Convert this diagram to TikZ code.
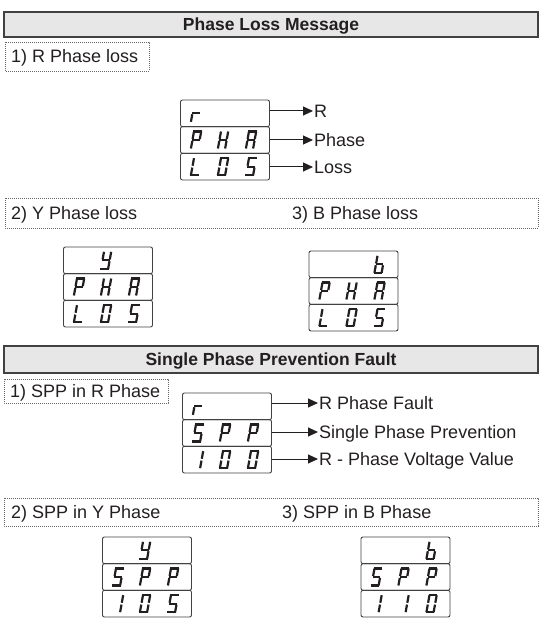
\documentclass[tikz,border=0pt]{standalone}
\usepackage{fontspec}
\setmainfont{Liberation Sans}
\usetikzlibrary{arrows.meta}

\definecolor{inkgray}{RGB}{35,31,32}
\definecolor{barfill}{RGB}{231,231,231}
\definecolor{rimgray}{RGB}{65,65,65}

\newcommand{\segr}{e,g}
\newcommand{\segy}{b,c,d,f,g}
\newcommand{\segb}{c,d,e,f,g}
\newcommand{\segP}{a,b,e,f,g}
\newcommand{\segH}{b,c,e,f,g}
\newcommand{\segA}{a,b,c,e,f,g}
\newcommand{\segL}{d,e,f}
\newcommand{\segO}{a,b,c,d,e,f}
\newcommand{\segS}{a,c,d,f,g}
\newcommand{\segI}{b,c}

% one glyph: row node, offset from its left side, segments
% segment ends in local units, y pointing down
\newcommand{\lcdchar}[3]{%
  \begin{scope}[shift={([xshift=#2pt]#1.west)}, xslant=.18]
    \coordinate (a1) at (-4.4,-8.5); \coordinate (a2) at (4.4,-8.5);
    \coordinate (b1) at (3.6,-8.5);  \coordinate (b2) at (3.6,-0.9);
    \coordinate (c1) at (3.6,0.9);   \coordinate (c2) at (3.6,8.5);
    \coordinate (d1) at (-4.4,8.5);  \coordinate (d2) at (4.4,8.5);
    \coordinate (e1) at (-3.6,0.9);  \coordinate (e2) at (-3.6,8.5);
    \coordinate (f1) at (-3.6,-8.5); \coordinate (f2) at (-3.6,-0.9);
    \coordinate (g1) at (-3.6,0);    \coordinate (g2) at (3.6,0);
    \foreach \s in #3 {\draw[segline] (\s1) -- (\s2);}
  \end{scope}}

% three stacked rows: name, centre x, top y
\newcommand{\lcdstack}[3]{%
  \node[lcdrow] (#1-1) at (#2,#3+13.33) {};
  \node[lcdrow] (#1-2) at (#2,#3+40) {};
  \node[lcdrow] (#1-3) at (#2,#3+66.67) {};}

\begin{document}
\begin{tikzpicture}[x=1pt, y=-1pt,
  every node/.style={text=inkgray, font=\fontsize{18}{21}\selectfont},
  headbar/.style={fill=barfill, draw=rimgray, line width=1.2pt},
  headtext/.style={font=\bfseries\fontsize{17.5}{20}\selectfont, inner sep=0pt, text height=12.6pt, text depth=0pt},
  tagbox/.style={draw=black!60, line width=0.7pt, dash pattern=on 0.7pt off 1.3pt},
  tagtext/.style={anchor=west, inner sep=0pt, text height=12.9pt, text depth=0pt},
  lcdrow/.style={draw=rimgray, line width=0.9pt, rounded corners=2pt, minimum width=89pt, minimum height=26.67pt, inner sep=0pt},
  lcdlabel/.style={anchor=west, inner sep=1pt, text height=12.9pt, text depth=0pt},
  segline/.style={draw=inkgray, line width=2.2pt},
  pointer/.style={draw=inkgray, line width=1pt, -{Triangle[length=10pt, width=9pt]}}]
  \useasboundingbox (0,0) rectangle (540,620);

  % phase loss
  \draw[headbar] (4,12) rectangle (538,37);
  \node[headtext] (headloss) at (271,24.5) {Phase Loss Message};
  \draw[tagbox] (5,42) rectangle (149,71);
  \node[tagtext] (tagrloss) at (11,56.5) {1) R Phase loss};

  \lcdstack{rloss}{225}{100}
  \lcdchar{rloss-1}{16}{\segr}
  \lcdchar{rloss-2}{16}{\segP}
  \lcdchar{rloss-2}{43}{\segH}
  \lcdchar{rloss-2}{71}{\segA}
  \lcdchar{rloss-3}{16}{\segL}
  \lcdchar{rloss-3}{43}{\segO}
  \lcdchar{rloss-3}{71}{\segS}
  \node[lcdlabel] (lbr) at (313,111) {R};
  \node[lcdlabel] (lbphase) at (313,140) {Phase};
  \node[lcdlabel] (lbloss) at (313,167) {Loss};
  \draw[pointer] (rloss-1.east |- lbr.west) -- (lbr.west);
  \draw[pointer] (rloss-2.east |- lbphase.west) -- (lbphase.west);
  \draw[pointer] (rloss-3.east |- lbloss.west) -- (lbloss.west);

  \draw[tagbox] (5,198) rectangle (538,228);
  \node[tagtext] (tagyloss) at (11,213) {2) Y Phase loss};
  \node[tagtext] (tagbloss) at (292,213) {3) B Phase loss};

  \lcdstack{yloss}{108}{247}
  \lcdchar{yloss-1}{43}{\segy}
  \lcdchar{yloss-2}{16}{\segP}
  \lcdchar{yloss-2}{43}{\segH}
  \lcdchar{yloss-2}{71}{\segA}
  \lcdchar{yloss-3}{16}{\segL}
  \lcdchar{yloss-3}{43}{\segO}
  \lcdchar{yloss-3}{71}{\segS}

  \lcdstack{bloss}{353.5}{251}
  \lcdchar{bloss-1}{71}{\segb}
  \lcdchar{bloss-2}{16}{\segP}
  \lcdchar{bloss-2}{43}{\segH}
  \lcdchar{bloss-2}{71}{\segA}
  \lcdchar{bloss-3}{16}{\segL}
  \lcdchar{bloss-3}{43}{\segO}
  \lcdchar{bloss-3}{71}{\segS}

  % single phase prevention
  \draw[headbar] (4,346) rectangle (538,373);
  \node[headtext] (headspp) at (271,359.5) {Single Phase Prevention Fault};
  \draw[tagbox] (4,379) rectangle (168,403);
  \node[tagtext] (tagrspp) at (10,391) {1) SPP in R Phase};

  \lcdstack{rspp}{227}{393}
  \lcdchar{rspp-1}{16}{\segr}
  \lcdchar{rspp-2}{16}{\segS}
  \lcdchar{rspp-2}{43}{\segP}
  \lcdchar{rspp-2}{71}{\segP}
  \lcdchar{rspp-3}{16}{\segI}
  \lcdchar{rspp-3}{43}{\segO}
  \lcdchar{rspp-3}{71}{\segO}
  \node[lcdlabel] (lbfault) at (318,403) {R Phase Fault};
  \node[lcdlabel] (lbspp) at (318,432) {Single Phase Prevention};
  \node[lcdlabel] (lbvolt) at (318,459) {R - Phase Voltage Value};
  \draw[pointer] (rspp-1.east |- lbfault.west) -- (lbfault.west);
  \draw[pointer] (rspp-2.east |- lbspp.west) -- (lbspp.west);
  \draw[pointer] (rspp-3.east |- lbvolt.west) -- (lbvolt.west);

  \draw[tagbox] (4,498) rectangle (538,526);
  \node[tagtext] (tagyspp) at (11,512) {2) SPP in Y Phase};
  \node[tagtext] (tagbspp) at (282,512) {3) SPP in B Phase};

  \lcdstack{yspp}{147}{537}
  \lcdchar{yspp-1}{43}{\segy}
  \lcdchar{yspp-2}{16}{\segS}
  \lcdchar{yspp-2}{43}{\segP}
  \lcdchar{yspp-2}{71}{\segP}
  \lcdchar{yspp-3}{16}{\segI}
  \lcdchar{yspp-3}{43}{\segO}
  \lcdchar{yspp-3}{71}{\segS}

  \lcdstack{bspp}{405.5}{537}
  \lcdchar{bspp-1}{71}{\segb}
  \lcdchar{bspp-2}{16}{\segS}
  \lcdchar{bspp-2}{43}{\segP}
  \lcdchar{bspp-2}{71}{\segP}
  \lcdchar{bspp-3}{16}{\segI}
  \lcdchar{bspp-3}{43}{\segI}
  \lcdchar{bspp-3}{71}{\segO}
\end{tikzpicture}
\end{document}
